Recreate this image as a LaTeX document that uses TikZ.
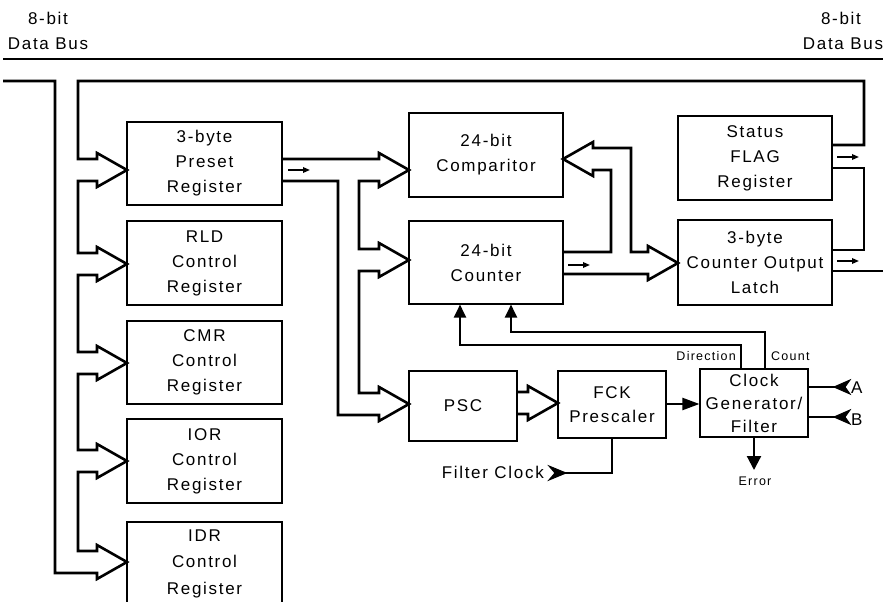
\documentclass[tikz,border=0pt]{standalone}
\usepackage{fontspec}
\setmainfont{Liberation Sans}[LetterSpace=10]
\usetikzlibrary{arrows.meta}
\newcommand{\diagbig}{\fontsize{17}{25}\selectfont}
\newcommand{\diagsmall}{\fontsize{12.5}{15}\selectfont}
% hollow bus arrow heads (path fragments)
\newcommand{\hR}{-- ++(0,-6) -- ++(30,17) -- ++(-30,17) -- ++(0,-6)}
\newcommand{\hL}{-- ++(0,6) -- ++(-30,-17) -- ++(30,-17) -- ++(0,6)}
\begin{document}
\begin{tikzpicture}[x=1pt,y=-1pt,
  box/.style={draw, line width=1.1pt, inner sep=0pt, align=center, font=\diagbig},
  bus/.style={line width=2.6pt, line join=miter},
  sig/.style={line width=2.2pt},
  tick/.style={line width=1.6pt, -{Triangle[length=7pt,width=5.5pt]}},
  lbl/.style={font=\diagbig, inner sep=0pt},
  slbl/.style={font=\diagsmall, inner sep=0pt},
  port/.style={fill=black, draw=black, line width=1pt, line join=miter}]
\fill[white] (0,0) rectangle (883,602);
\useasboundingbox (0,0) rectangle (883,602);

% labels at top
\node[lbl, anchor=base] (tl1) at (48,25) {8-bit};
\node[lbl, anchor=base] (tl2) at (48,50) {Data Bus};
\node[lbl, anchor=base] (tr1) at (841,25) {8-bit};
\node[lbl, anchor=base] (tr2) at (843,50) {Data Bus};
\coordinate (busL) at (3,59);
\coordinate (busR) at (883,59);
\draw[line width=2.4pt] (busL) -- (busR);

% boxes
\node[box, minimum width=155pt, minimum height=83pt] (preset) at (204.5,163.5) {3-byte\\Preset\\Register};
\node[box, minimum width=155pt, minimum height=84pt] (rld) at (204.5,263) {RLD\\Control\\Register};
\node[box, minimum width=155pt, minimum height=83pt] (cmr) at (204.5,362.5) {CMR\\Control\\Register};
\node[box, minimum width=155pt, minimum height=84pt] (ior) at (204.5,461) {IOR\\Control\\Register};
\node[box, minimum width=155pt, minimum height=83pt, font=\fontsize{17}{26.5}\selectfont] (idr) at (204.5,563.5) {IDR\\Control\\Register};

\node[box, minimum width=154pt, minimum height=84pt] (comp) at (486,155) {24-bit\\Comparitor};
\node[box, minimum width=154pt, minimum height=83pt] (counter) at (486,262.5) {24-bit\\Counter};
\node[box, minimum width=154pt, minimum height=84pt] (status) at (755,158) {Status\\FLAG\\Register};
\node[box, minimum width=154pt, minimum height=85pt] (latch) at (755,262.5) {3-byte\\Counter Output\\Latch};

\node[box, minimum width=108pt, minimum height=70pt] (psc) at (463,406) {PSC};
\node[box, minimum width=108pt, minimum height=67pt, font=\fontsize{17}{24}\selectfont] (fck) at (612,404.5) {FCK\\Prescaler};
\node[box, minimum width=108pt, minimum height=68pt, font=\fontsize{17}{23}\selectfont] (clk) at (754,403) {Clock\\Generator/\\Filter};

% left data bus
\draw[bus] (status.east |- 0,145) -- (864,145) -- (864,81) -- (78,81)
  -- (78,159) -- (97,159) \hR -- (78,181)
  -- (78,253) -- (97,253) \hR -- (78,275)
  -- (78,352) -- (97,352) \hR -- (78,374)
  -- (78,450) -- (97,450) \hR -- (78,472)
  -- (78,551) -- (97,551) \hR -- (55,573)
  -- (55,81) -- (3,81);
% right data bus
\draw[bus] (status.east |- 0,168) -- (864,168) -- (864,250) -- (latch.east |- 0,250);
\draw[bus] (latch.east |- 0,271) -- (883,271);

% preset register outputs
\draw[bus] (preset.east |- 0,159) -- (379,159) \hR -- (359,181)
  -- (359,249) -- (379,249) \hR -- (359,271)
  -- (359,393) -- (379,393) \hR -- (338,415)
  -- (338,181) -- (preset.east |- 0,181);

% counter outputs
\draw[bus] (counter.east |- 0,252) -- (611,252) -- (611,170) -- (593,170) \hL
  -- (631,148) -- (631,252) -- (648,252) \hR -- (counter.east |- 0,274);

% PSC to FCK
\draw[bus] (psc.east |- 0,392) -- (528,392) \hR -- (psc.east |- 0,414);

% direction markers in buses
\draw[tick] (288,170) -- (310,170);
\draw[tick] (568,265) -- (590,265);
\draw[tick] (837,157) -- (859,157);
\draw[tick] (837,261) -- (859,261);

% Direction and Count
\draw[sig, -{Triangle[length=13pt,width=12pt]}] (741,0 |- clk.north) -- (741,345) -- (460,345) -- (460,0 |- counter.south);
\draw[sig, -{Triangle[length=13pt,width=12pt]}] (765,0 |- clk.north) -- (765,332) -- (511,332) -- (511,0 |- counter.south);
\node[slbl, anchor=base east] (dirl) at (736,360) {Direction};
\node[slbl, anchor=base west] (cntl) at (771,360) {Count};

% FCK to clock generator
\draw[sig, -{Triangle[length=17pt,width=12pt]}] (fck.east |- 0,404) -- (clk.west |- 0,404);

% Error
\node[slbl, anchor=base] (err) at (755,485) {Error};
\draw[sig, -{Triangle[length=14pt,width=14pt]}] (clk.south) -- (clk.south |- 0,470);

% A and B inputs
\node[lbl, anchor=base west] (A) at (851,393) {A};
\node[lbl, anchor=base west] (B) at (851,425) {B};
\draw[sig] (clk.east |- 0,387) -- (836,387);
\draw[sig] (clk.east |- 0,417) -- (836,417);
\draw[port] (834,387) -- (850,380) -- (845,387) -- (850,394) -- cycle;
\draw[port] (834,417) -- (850,410) -- (845,417) -- (850,424) -- cycle;

% Filter clock
\node[lbl, anchor=base east] (fcl) at (544,478) {Filter Clock};
\draw[sig] (fck.south) -- (fck.south |- 0,473) -- (564,473);
\draw[port] (566,473) -- (549,466) -- (555,473) -- (549,480) -- cycle;
\end{tikzpicture}
\end{document}
